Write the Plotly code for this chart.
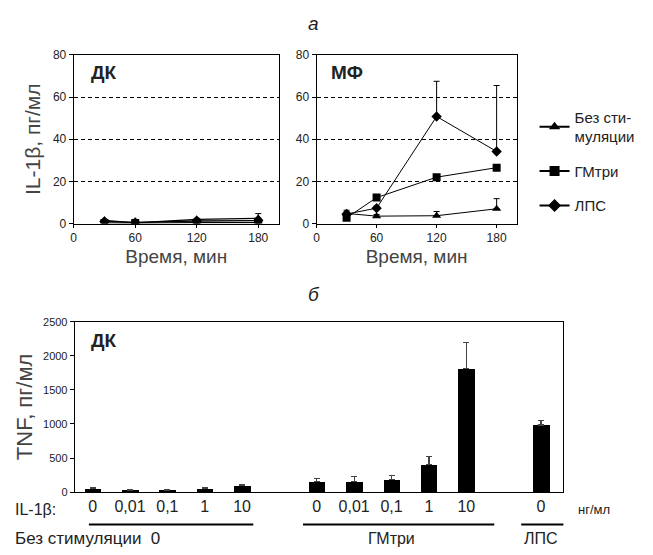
import plotly.graph_objects as go

# ---------------- data ----------------
times = [30, 60, 120, 180]
series_names = ["Без сти-<br>муляции", "ГМтри", "ЛПС"]
series_symbols = ["triangle-up", "square", "diamond"]

# panel "ДК" (IL-1β, pg/ml)
dc_none = [1.5, 0.3, 2.0, 2.5]
dc_none_err = [0.5, 0.2, 0.5, 2.2]
dc_gm = [0.3, 0.2, 0.4, 0.4]
dc_gm_err = [0.3, 0.2, 0.3, 0.5]
dc_lps = [1.0, 0.5, 1.2, 1.4]
dc_lps_err = [0.5, 0.3, 0.6, 0.8]

# panel "МФ" (IL-1β, pg/ml)
mf_none = [4.8, 3.5, 3.7, 7.0]
mf_none_err = [1.5, 0.8, 2.0, 4.8]
mf_gm = [2.7, 12.3, 22.0, 26.5]
mf_gm_err = [1.0, 0.8, 1.0, 0.8]
mf_lps = [4.5, 7.3, 50.8, 34.2]
mf_lps_err = [1.0, 1.0, 16.7, 31.3]

# bottom panel: TNF (pg/ml) in ДК
bar_pos = [0, 1, 2, 3, 4, 6, 7, 8, 9, 10, 12]
bar_labels = ["0", "0,01", "0,1", "1", "10", "0", "0,01", "0,1", "1", "10", "0"]
tnf = [55, 30, 30, 55, 95, 155, 155, 185, 405, 1810, 985]
tnf_err = [8, 10, 8, 12, 15, 50, 70, 60, 115, 380, 70]

group_names = ["Без стимуляции  0", "ГМтри", "ЛПС"]

FONT = "Liberation Sans, Arial, sans-serif"
TXT = "#222222"

fig = go.Figure()

dc_sets = [(dc_none, dc_none_err), (dc_gm, dc_gm_err), (dc_lps, dc_lps_err)]
mf_sets = [(mf_none, mf_none_err), (mf_gm, mf_gm_err), (mf_lps, mf_lps_err)]

for i, (vals, errs) in enumerate(dc_sets):
    fig.add_trace(go.Scatter(
        x=times, y=vals, mode="lines+markers", xaxis="x", yaxis="y",
        line=dict(color="black", width=1.3),
        marker=dict(symbol=series_symbols[i], size=8, color="black"),
        error_y=dict(type="data", symmetric=False, array=errs,
                     arrayminus=[0] * len(errs), color="black", thickness=1, width=3),
        showlegend=False, hoverinfo="skip"))

for i, (vals, errs) in enumerate(mf_sets):
    fig.add_trace(go.Scatter(
        x=times, y=vals, mode="lines+markers", xaxis="x2", yaxis="y2",
        name=series_names[i],
        line=dict(color="black", width=1),
        marker=dict(symbol=series_symbols[i], size=8, color="black"),
        error_y=dict(type="data", symmetric=False, array=errs,
                     arrayminus=[0] * len(errs), color="black", thickness=1, width=3),
        showlegend=False))
    # legend sample (no data points, legend only)
    fig.add_trace(go.Scatter(
        x=[None], y=[None], mode="lines+markers", xaxis="x2", yaxis="y2",
        name=series_names[i], legendgroup=str(i),
        line=dict(color="black", width=2),
        marker=dict(symbol=series_symbols[i], size=10, color="black"),
        showlegend=True))

fig.add_trace(go.Bar(
    x=bar_pos, y=tnf, xaxis="x3", yaxis="y3", width=0.44,
    marker=dict(color="black", line=dict(width=0)),
    error_y=dict(type="data", symmetric=False, array=tnf_err,
                 arrayminus=[0] * len(tnf_err), color="#444444", thickness=1.2, width=3),
    showlegend=False))

# the page body has an 8px margin, so the figure is drawn 8px in from the window corner
OFF = 8
W, H = 653 - OFF, 555 - OFF
def px(x):
    return (x - OFF) / W
def py(y):
    return 1 - (y - OFF) / H

top_x_common = dict(range=[0, 200], tickvals=[0, 60, 120, 180], showgrid=False,
                    showline=True, linecolor="black", linewidth=1, mirror=True,
                    ticks="outside", ticklen=3, tickcolor="black",
                    tickfont=dict(size=12, color=TXT, family=FONT),
                    title=dict(text="Время, мин", font=dict(size=19, color="#444444", family=FONT),
                               standoff=5),
                    zeroline=False)
top_y_common = dict(range=[0, 80], tickvals=[0, 20, 40, 60, 80], showgrid=True,
                    gridcolor="black", griddash="4px,3px", gridwidth=1,
                    showline=True, linecolor="black", linewidth=1, mirror=True,
                    ticks="outside", ticklen=4, tickcolor="black",
                    tickfont=dict(size=12, color=TXT, family=FONT), zeroline=False)

fig.update_layout(
    width=W, height=H, margin=dict(l=0, r=0, t=0, b=0),
    plot_bgcolor="white", paper_bgcolor="white",
    font=dict(family=FONT, color=TXT),
    xaxis=dict(domain=[px(71), px(277)], anchor="y", **top_x_common),
    yaxis=dict(domain=[py(222), py(49)], anchor="x",
               title=dict(text="IL-1β, пг/мл", font=dict(size=21, color="#444444", family=FONT),
                          standoff=6),
               **top_y_common),
    xaxis2=dict(domain=[px(315), px(516)], anchor="y2", **top_x_common),
    yaxis2=dict(domain=[py(222), py(49)], anchor="x2", **top_y_common),
    xaxis3=dict(domain=[px(72), px(563)], anchor="y3", range=[-0.48, 12.6],
                tickvals=bar_pos, ticktext=bar_labels, ticks="",
                tickfont=dict(size=16, color=TXT, family=FONT),
                showline=True, linecolor="black", linewidth=1, mirror=True,
                showgrid=False, zeroline=False),
    yaxis3=dict(domain=[py(497.7), py(322.7)], anchor="x3", range=[0, 2500],
                tickvals=[0, 500, 1000, 1500, 2000, 2500],
                ticks="outside", ticklen=4, tickcolor="black",
                tickfont=dict(size=11, color=TXT, family=FONT),
                showline=True, linecolor="black", linewidth=1, mirror=True,
                showgrid=False, zeroline=False,
                title=dict(text="TNF, пг/мл", font=dict(size=22, color="#444444", family=FONT),
                           standoff=4)),
    legend=dict(x=px(534), y=py(96), xanchor="left", yanchor="top",
                bgcolor="rgba(0,0,0,0)", font=dict(size=15, color=TXT, family=FONT),
                tracegroupgap=12, itemwidth=30),
    bargap=0,
)

def ann(text, x, y, size, xanchor="center", xref="paper"):
    return dict(text=text, x=x, y=y, xref=xref, yref="paper", xanchor=xanchor,
                yanchor="middle", showarrow=False, font=dict(size=size, color=TXT))

annotations = [
    ann("<i>а</i>", px(312), py(17), 19),
    ann("<i>б</i>", px(312), py(295), 19),
    ann("<b>ДК</b>", px(86), py(67), 19, "left"),
    ann("<b>МФ</b>", px(327), py(67), 19, "left"),
    ann("<b>ДК</b>", px(86), py(342), 19, "left"),
    ann("IL-1β:", px(10), py(516), 16, "left"),
    ann("нг/мл", px(594), py(516), 13),
    ann(group_names[0], px(10), py(545), 17, "left"),
    ann(group_names[1], 8, py(545), 16, xref="x3"),
    ann(group_names[2], 12, py(545), 16, xref="x3"),
]
fig.update_layout(annotations=annotations)

shapes = []
for x0, x1 in [(-0.1, 4.3), (5.63, 10.75), (11.47, 12.83)]:
    shapes.append(dict(type="line", xref="x3", yref="paper", x0=x0, x1=x1,
                       y0=py(531), y1=py(531), line=dict(color="black", width=2)))
fig.update_layout(shapes=shapes)

fig.write_html("out.html")
